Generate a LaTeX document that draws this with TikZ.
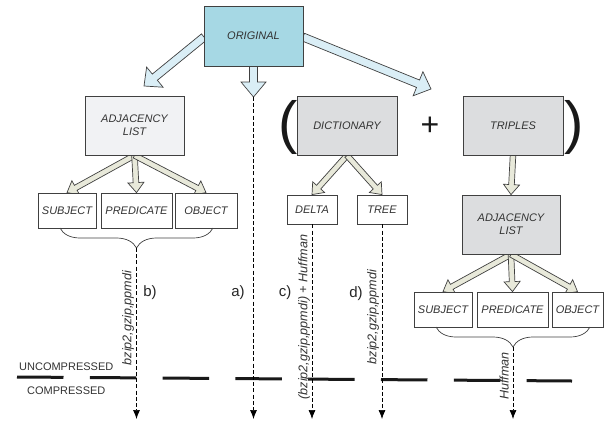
\documentclass[tikz,border=0pt]{standalone}
\usepackage{fontspec}
\setmainfont{Liberation Sans}
\usetikzlibrary{calc,arrows.meta,decorations.pathreplacing}
\definecolor{origfill}{RGB}{166,216,228}
\definecolor{lightfill}{RGB}{241,242,244}
\definecolor{grayfill}{RGB}{220,221,223}
\definecolor{bluearr}{RGB}{218,238,246}
\definecolor{grayarr}{RGB}{232,233,218}
\definecolor{edge}{RGB}{64,64,64}
\definecolor{txt}{RGB}{51,51,51}
\pgfdeclarelayer{bg}
\pgfsetlayers{bg,main}
\newcommand\blockarrow[6]{%
  \coordinate (bah) at ($(#3)!#6!(#2)$);
  \draw[#1] ($(#2)!#4!90:(#3)$) -- ($(bah)!#4!-90:(#2)$) -- ($(bah)!#5!-90:(#2)$) -- (#3)
    -- ($(bah)!#5!90:(#2)$) -- ($(bah)!#4!90:(#2)$) -- ($(#2)!#4!-90:(#3)$) -- cycle;}
\tikzset{
  box/.style={draw=edge, line width=0.8pt, inner sep=1pt, align=center, text=txt,
    font=\fontsize{11}{13}\selectfont\itshape},
  bigbox/.style={box, minimum height=59pt},
  smallbox/.style={box, fill=white, minimum height=35pt},
  tinybox/.style={box, fill=white, minimum height=29pt, minimum width=50pt},
  bluearrow/.style={draw=edge, line width=0.7pt, fill=bluearr},
  grayarrow/.style={draw=edge, line width=0.7pt, fill=grayarr},
  flow/.style={line width=0.7pt, dash pattern=on 4pt off 2.2pt, -{Latex[length=9pt,width=7pt]}},
  method/.style={rotate=90, text=txt, inner sep=0pt, font=\fontsize{12.6}{14}\selectfont\itshape},
  tag/.style={text=black!85, inner sep=0pt, font=\fontsize{15}{17}\selectfont},
  level/.style={text=txt, inner sep=0pt, anchor=west, font=\fontsize{11}{13}\selectfont},
  paren/.style={text=black!90, inner sep=0pt, font=\fontsize{58}{60}\selectfont},
  curly/.style={draw=edge, line width=0.7pt, decorate, decoration={brace, mirror, amplitude=20pt}}
}
\begin{document}
\begin{tikzpicture}[x=1pt, y=-1pt]
\useasboundingbox (0,0) rectangle (611,421);
% boxes
\node[box, fill=origfill, minimum width=99pt, minimum height=60pt] (orig) at (253.5,36) {ORIGINAL};
\node[bigbox, fill=lightfill, minimum width=99pt] (adjL) at (134.5,125.5) {ADJACENCY\\LIST};
\node[bigbox, fill=grayfill, minimum width=100pt] (dict) at (347,125.5) {DICTIONARY};
\node[bigbox, fill=grayfill, minimum width=100pt] (trip) at (513,125.5) {TRIPLES};
\node[smallbox, minimum width=58pt] (subL) at (67,210.5) {SUBJECT};
\node[smallbox, minimum width=71pt] (preL) at (136.5,210.5) {PREDICATE};
\node[smallbox, minimum width=62pt] (objL) at (206,210.5) {OBJECT};
\node[tinybox] (delta) at (312,209.5) {DELTA};
\node[tinybox] (tree) at (382,209.5) {TREE};
\node[bigbox, fill=grayfill, minimum width=98pt] (adjR) at (511,224.5) {ADJACENCY\\LIST};
\node[smallbox, minimum width=58pt] (subR) at (443,309.5) {SUBJECT};
\node[smallbox, minimum width=71pt] (preR) at (512.5,309.5) {PREDICATE};
\node[smallbox, minimum width=51pt] (objR) at (577.5,309.5) {OBJECT};
% parentheses and plus
\node[paren] (lpar) at (288,127) {(};
\node[paren] (rpar) at (574,127) {)};
\node[text=black!90, inner sep=0pt, font=\fontsize{32}{32}\selectfont] (plus) at (430,126) {+};
% free arrow ends
\coordinate (t1) at (144,86);
\coordinate (t2) at (253.5,97);
\coordinate (t3) at (431,89);
\coordinate (o1) at (204,37);
\coordinate (o3) at (303,37);
% block arrows
\begin{pgfonlayer}{bg}
\blockarrow{bluearrow}{o1}{t1}{4pt}{13pt}{14pt}
\blockarrow{bluearrow}{orig.south}{t2}{4pt}{12.5pt}{15pt}
\blockarrow{bluearrow}{o3}{t3}{4pt}{13pt}{14pt}
\blockarrow{grayarrow}{adjL.south}{subL.north}{2.8pt}{8pt}{10pt}
\blockarrow{grayarrow}{adjL.south}{preL.north}{2.8pt}{8pt}{10pt}
\blockarrow{grayarrow}{adjL.south}{objL.north}{2.8pt}{8pt}{10pt}
\blockarrow{grayarrow}{dict.south}{delta.north}{2.8pt}{8pt}{10pt}
\blockarrow{grayarrow}{dict.south}{tree.north}{2.8pt}{8pt}{10pt}
\blockarrow{grayarrow}{trip.south}{adjR.north}{2.8pt}{8pt}{10pt}
\blockarrow{grayarrow}{adjR.south}{subR.north}{2.8pt}{8pt}{10pt}
\blockarrow{grayarrow}{adjR.south}{preR.north}{2.8pt}{8pt}{10pt}
\blockarrow{grayarrow}{adjR.south}{objR.north}{2.8pt}{8pt}{10pt}
\end{pgfonlayer}
% braces
\coordinate (bl1) at (60,228);
\coordinate (bl2) at (213,228);
\coordinate (br1) at (436,327);
\coordinate (br2) at (590,327);
\draw[curly] (bl1) -- (bl2);
\draw[curly] (br1) -- (br2);
\coordinate (bL) at (136.5,248);
\coordinate (bR) at (513,347);
% compressed / uncompressed boundary
\draw[line width=3pt, black!90, dash pattern=on 46.5pt off 26.3pt] (17,377) -- (572,381);
\node[level] (unc) at (19,367) {UNCOMPRESSED};
\node[level] (com) at (27,391) {COMPRESSED};
% end points of flows
\coordinate (eb) at (136.5,419);
\coordinate (ea) at (253.5,419);
\coordinate (ec) at (312,419);
\coordinate (ed) at (382,419);
\coordinate (eh) at (513,419);
\draw[flow] (bL) -- (eb);
\draw[flow] (t2) -- (ea);
\draw[flow] (delta.south) -- (ec);
\draw[flow] (tree.south) -- (ed);
\draw[flow] (bR) -- (eh);
% labels
\node[method] (mb) at (128,318) {bzip2,gzip,ppmdi};
\node[method] (mc) at (304,317) {(bzip2,gzip,ppmdi) + Huffman};
\node[method] (md) at (373,317) {bzip2,gzip,ppmdi};
\node[method] (mh) at (504,376) {Huffman};
\node[tag] (lb) at (150,293) {b)};
\node[tag] (la) at (238,293) {a)};
\node[tag] (lc) at (285,293) {c)};
\node[tag] (ld) at (356,294) {d)};
\end{tikzpicture}
\end{document}
